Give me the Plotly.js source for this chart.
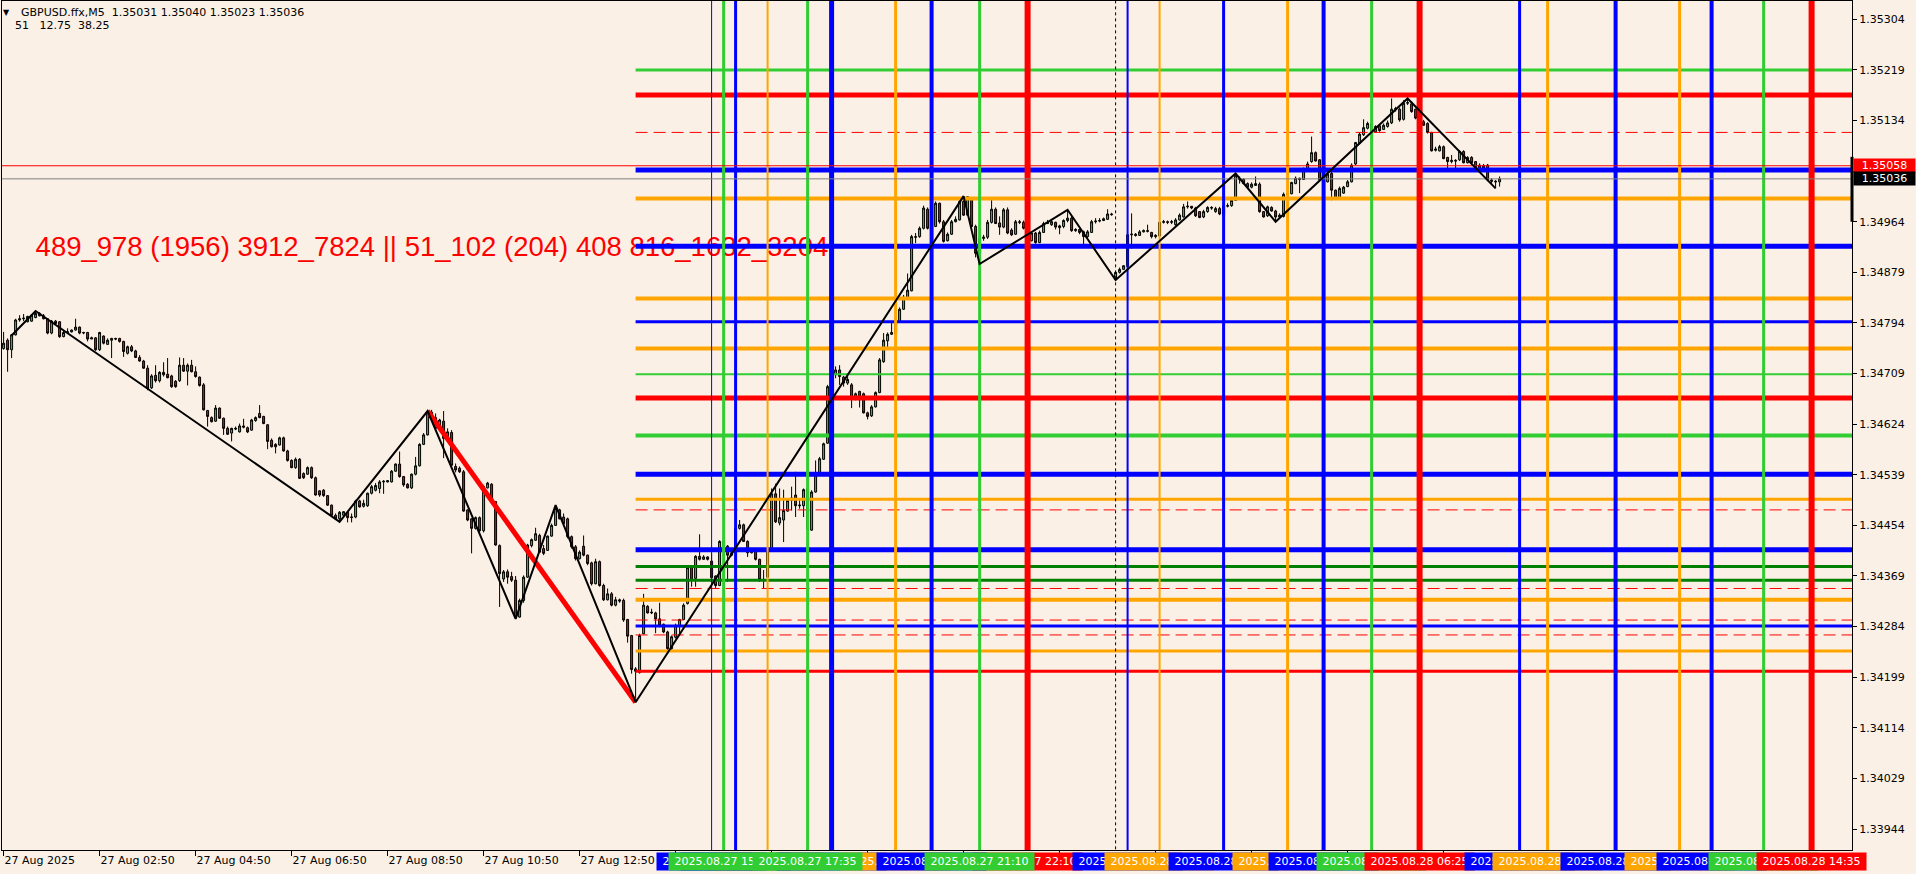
<!DOCTYPE html>
<html>
<head>
<meta charset="utf-8">
<script src="https://cdn.plot.ly/plotly-3.0.1.min.js"></script>
<style>
html,body{margin:0;padding:0;background:#FAF0E6;}
#chart{width:1916px;height:874px;}
</style>
</head>
<body>
<div id="chart"></div>
<script>
// ---------------- DATA ----------------
const symbolTitle = "GBPUSD.ffx,M5";
const lastOHLC = ["1.35031", "1.35040", "1.35023", "1.35036"];
const indicatorValues = ["51", "12.75", "38.25"];
const levelsText = "489_978 (1956) 3912_7824 || 51_102 (204) 408 816_1632_3204";
const levelsTextAt = {time: "2025.08.27 01:30", price: 1.34918};

const startTime = "2025.08.27 00:50";      // first visible M5 bar
const missingBars = ["2025.08.28 00:05"];  // bar absent from history

const open = [
1.34751,1.34765,1.34749,1.34774,1.34799,1.34801,1.34796,1.34797,1.34803,1.34810,
1.34806,1.34801,1.34777,1.34797,1.34796,1.34771,1.34778,1.34779,1.34782,1.34787,
1.34777,1.34778,1.34767,1.34769,1.34749,1.34772,1.34758,1.34765,1.34768,1.34768,
1.34763,1.34743,1.34754,1.34747,1.34736,1.34730,1.34718,1.34685,1.34706,1.34697,
1.34711,1.34708,1.34705,1.34696,1.34697,1.34723,1.34713,1.34723,1.34712,1.34703,
1.34690,1.34647,1.34635,1.34629,1.34651,1.34634,1.34617,1.34609,1.34617,1.34611,
1.34621,1.34618,1.34614,1.34630,1.34642,1.34637,1.34623,1.34597,1.34590,1.34589,
1.34601,1.34579,1.34563,1.34551,1.34565,1.34541,1.34540,1.34551,1.34534,1.34512,
1.34513,1.34504,1.34488,1.34471,1.34465,1.34471,1.34476,1.34467,1.34468,1.34495,
1.34486,1.34487,1.34508,1.34513,1.34516,1.34527,1.34527,1.34527,1.34545,1.34557,
1.34536,1.34523,1.34517,1.34540,1.34554,1.34590,1.34606,1.34644,1.34635,1.34618,
1.34629,1.34600,1.34610,1.34553,1.34550,1.34544,1.34480,1.34465,1.34449,1.34467,
1.34445,1.34517,1.34523,1.34494,1.34420,1.34364,1.34376,1.34368,1.34362,1.34300,
1.34328,1.34367,1.34420,1.34429,1.34437,1.34415,1.34412,1.34436,1.34454,1.34480,
1.34468,1.34465,1.34435,1.34418,1.34398,1.34419,1.34404,1.34391,1.34356,1.34393,
1.34353,1.34329,1.34339,1.34320,1.34329,1.34328,1.34296,1.34269,1.34213,1.34207,
1.34272,1.34318,1.34307,1.34307,1.34297,1.34288,1.34275,1.34247,1.34266,1.34285,
1.34296,1.34323,1.34383,1.34365,1.34402,1.34397,1.34401,1.34394,1.34369,1.34353,
1.34427,1.34419,1.34404,1.34408,1.34449,1.34455,1.34427,1.34408,1.34413,1.34397,
1.34363,1.34367,1.34412,1.34507,1.34458,1.34463,1.34478,1.34496,1.34505,1.34487,
1.34487,1.34516,1.34446,1.34510,1.34538,1.34565,1.34592,1.34687,1.34707,1.34715,
1.34703,1.34693,1.34690,1.34666,1.34679,1.34675,1.34643,1.34638,1.34653,1.34677,
1.34729,1.34764,1.34775,1.34776,1.34796,1.34817,1.34835,1.34848,1.34939,1.34939,
1.34953,1.34985,1.34953,1.34956,1.34995,1.34964,1.34932,1.34943,1.34964,1.34967,
1.34998,1.34975,1.35003,1.34956,1.34911,1.34936,1.34938,1.34963,1.34985,1.34962,
1.34955,1.34984,1.34950,1.34943,1.34964,1.34963,1.34955,1.34932,1.34945,1.34929,
1.34946,1.34961,1.34959,1.34963,1.34954,1.34956,1.34966,1.34970,1.34949,1.34951,
1.34947,1.34939,1.34946,1.34964,1.34965,1.34966,1.34968,1.34977,1.34867,1.34879,
1.34884,1.34889,1.34942,1.34943,1.34941,1.34947,1.34949,1.34946,1.34939,1.34940,
1.34963,1.34964,1.34963,1.34959,1.34967,1.34972,1.34989,1.34990,1.34987,1.34981,
1.34972,1.34981,1.34988,1.34981,1.34986,1.34975,1.34990,1.34991,1.35000,1.35035,
1.35035,1.35028,1.35022,1.35025,1.35027,1.34981,1.34974,1.34988,1.34982,1.34972,
1.34973,1.35010,1.35011,1.35028,1.35037,1.35035,1.35052,1.35065,1.35080,1.35068,
1.35034,1.35031,1.35045,1.35017,1.35003,1.35012,1.35023,1.35031,1.35061,1.35096,
1.35110,1.35121,1.35129,1.35115,1.35125,1.35119,1.35124,1.35130,1.35153,1.35153,
1.35136,1.35163,1.35162,1.35153,1.35138,1.35132,1.35129,1.35114,1.35084,1.35083,
1.35090,1.35072,1.35065,1.35067,1.35068,1.35082,1.35063,1.35072,1.35065,1.35054,
1.35058,1.35059,1.35034,1.35032,1.35031];

const high = [
1.34779,1.34768,1.34775,1.34801,1.34807,1.34809,1.34806,1.34809,1.34814,1.34812,
1.34809,1.34802,1.34799,1.34799,1.34797,1.34781,1.34785,1.34783,1.34801,1.34788,
1.34779,1.34779,1.34771,1.34770,1.34779,1.34773,1.34768,1.34769,1.34769,1.34769,
1.34764,1.34756,1.34757,1.34749,1.34740,1.34732,1.34723,1.34708,1.34723,1.34713,
1.34728,1.34735,1.34707,1.34698,1.34736,1.34735,1.34726,1.34732,1.34721,1.34704,
1.34693,1.34648,1.34637,1.34656,1.34652,1.34635,1.34620,1.34618,1.34620,1.34625,
1.34633,1.34620,1.34633,1.34637,1.34656,1.34638,1.34624,1.34600,1.34592,1.34603,
1.34603,1.34581,1.34565,1.34568,1.34567,1.34543,1.34553,1.34553,1.34536,1.34513,
1.34515,1.34505,1.34489,1.34474,1.34478,1.34478,1.34477,1.34474,1.34497,1.34497,
1.34497,1.34509,1.34522,1.34525,1.34530,1.34530,1.34530,1.34547,1.34558,1.34578,
1.34537,1.34525,1.34541,1.34569,1.34592,1.34609,1.34646,1.34648,1.34642,1.34633,
1.34646,1.34617,1.34614,1.34558,1.34553,1.34547,1.34481,1.34466,1.34469,1.34469,
1.34522,1.34527,1.34525,1.34495,1.34422,1.34379,1.34380,1.34376,1.34369,1.34331,
1.34370,1.34423,1.34432,1.34450,1.34440,1.34421,1.34437,1.34457,1.34488,1.34482,
1.34474,1.34467,1.34437,1.34421,1.34412,1.34437,1.34405,1.34393,1.34398,1.34395,
1.34356,1.34348,1.34342,1.34334,1.34331,1.34331,1.34297,1.34270,1.34216,1.34272,
1.34339,1.34320,1.34314,1.34309,1.34324,1.34289,1.34277,1.34269,1.34289,1.34297,
1.34323,1.34385,1.34387,1.34404,1.34439,1.34404,1.34402,1.34407,1.34370,1.34429,
1.34439,1.34421,1.34409,1.34460,1.34463,1.34457,1.34429,1.34415,1.34415,1.34398,
1.34379,1.34415,1.34516,1.34524,1.34516,1.34514,1.34499,1.34519,1.34544,1.34499,
1.34516,1.34519,1.34513,1.34563,1.34569,1.34593,1.34690,1.34718,1.34721,1.34723,
1.34705,1.34704,1.34693,1.34677,1.34680,1.34677,1.34645,1.34656,1.34679,1.34735,
1.34777,1.34778,1.34796,1.34799,1.34820,1.34841,1.34877,1.34942,1.34945,1.34956,
1.34991,1.34988,1.34959,1.34998,1.34996,1.34967,1.34946,1.34967,1.34973,1.35002,
1.35007,1.35007,1.35005,1.34959,1.34939,1.34942,1.34967,1.35002,1.34988,1.34973,
1.34987,1.34988,1.34953,1.34967,1.34967,1.34966,1.34957,1.34947,1.34947,1.34949,
1.34964,1.34967,1.34967,1.34964,1.34959,1.34968,1.34984,1.34973,1.34953,1.34952,
1.34949,1.34950,1.34967,1.34970,1.34970,1.34971,1.34985,1.34979,1.34880,1.34887,
1.34891,1.34945,1.34978,1.34945,1.34950,1.34951,1.34959,1.34947,1.34943,1.34981,
1.34967,1.34966,1.34967,1.34970,1.34978,1.34994,1.34998,1.34990,1.34989,1.34982,
1.34984,1.34990,1.34990,1.34989,1.34989,1.34994,1.34995,1.35003,1.35045,1.35040,
1.35037,1.35030,1.35030,1.35040,1.35030,1.34982,1.34991,1.34990,1.34984,1.34978,
1.35013,1.35014,1.35031,1.35040,1.35038,1.35055,1.35065,1.35107,1.35082,1.35069,
1.35038,1.35046,1.35048,1.35018,1.35023,1.35024,1.35034,1.35062,1.35098,1.35114,
1.35136,1.35132,1.35132,1.35126,1.35128,1.35129,1.35134,1.35171,1.35157,1.35156,
1.35168,1.35171,1.35166,1.35154,1.35140,1.35135,1.35131,1.35115,1.35090,1.35093,
1.35092,1.35073,1.35076,1.35069,1.35084,1.35084,1.35074,1.35074,1.35066,1.35062,
1.35061,1.35061,1.35037,1.35034,1.35040];

const low = [
1.34749,1.34712,1.34735,1.34773,1.34796,1.34797,1.34795,1.34796,1.34802,1.34805,
1.34800,1.34775,1.34775,1.34792,1.34769,1.34770,1.34777,1.34778,1.34781,1.34775,
1.34775,1.34763,1.34767,1.34747,1.34747,1.34758,1.34757,1.34735,1.34765,1.34761,
1.34737,1.34741,1.34745,1.34735,1.34729,1.34717,1.34681,1.34683,1.34694,1.34694,
1.34704,1.34701,1.34685,1.34685,1.34695,1.34712,1.34689,1.34711,1.34702,1.34687,
1.34647,1.34620,1.34627,1.34628,1.34633,1.34606,1.34606,1.34595,1.34614,1.34610,
1.34617,1.34609,1.34613,1.34628,1.34634,1.34624,1.34582,1.34585,1.34575,1.34588,
1.34578,1.34561,1.34550,1.34549,1.34532,1.34532,1.34539,1.34532,1.34504,1.34502,
1.34502,1.34487,1.34470,1.34463,1.34460,1.34470,1.34459,1.34459,1.34466,1.34484,
1.34484,1.34485,1.34506,1.34511,1.34508,1.34507,1.34526,1.34526,1.34544,1.34534,
1.34519,1.34516,1.34515,1.34538,1.34553,1.34589,1.34605,1.34631,1.34616,1.34617,
1.34567,1.34599,1.34554,1.34543,1.34542,1.34477,1.34461,1.34407,1.34447,1.34442,
1.34442,1.34516,1.34493,1.34420,1.34317,1.34359,1.34356,1.34359,1.34297,1.34299,
1.34324,1.34366,1.34417,1.34428,1.34408,1.34404,1.34411,1.34435,1.34453,1.34464,
1.34454,1.34432,1.34415,1.34395,1.34397,1.34402,1.34387,1.34353,1.34355,1.34351,
1.34327,1.34328,1.34318,1.34318,1.34324,1.34292,1.34257,1.34205,1.34157,1.34205,
1.34271,1.34306,1.34305,1.34273,1.34283,1.34273,1.34239,1.34245,1.34264,1.34271,
1.34295,1.34321,1.34351,1.34351,1.34395,1.34396,1.34395,1.34365,1.34349,1.34352,
1.34418,1.34359,1.34402,1.34407,1.34447,1.34426,1.34401,1.34407,1.34395,1.34359,
1.34348,1.34366,1.34411,1.34458,1.34454,1.34426,1.34477,1.34479,1.34468,1.34482,
1.34468,1.34437,1.34445,1.34509,1.34537,1.34564,1.34591,1.34686,1.34701,1.34690,
1.34687,1.34690,1.34651,1.34664,1.34652,1.34642,1.34632,1.34636,1.34652,1.34676,
1.34727,1.34749,1.34774,1.34768,1.34795,1.34816,1.34834,1.34847,1.34928,1.34937,
1.34951,1.34951,1.34950,1.34955,1.34961,1.34929,1.34931,1.34942,1.34963,1.34966,
1.34974,1.34974,1.34955,1.34904,1.34893,1.34932,1.34935,1.34961,1.34960,1.34942,
1.34953,1.34943,1.34940,1.34942,1.34960,1.34951,1.34922,1.34931,1.34927,1.34928,
1.34945,1.34960,1.34957,1.34951,1.34943,1.34953,1.34963,1.34947,1.34947,1.34943,
1.34925,1.34937,1.34945,1.34961,1.34963,1.34965,1.34967,1.34974,1.34865,1.34877,
1.34883,1.34887,1.34919,1.34939,1.34940,1.34946,1.34946,1.34936,1.34936,1.34939,
1.34961,1.34960,1.34960,1.34957,1.34966,1.34971,1.34986,1.34985,1.34972,1.34970,
1.34970,1.34979,1.34984,1.34979,1.34975,1.34974,1.34988,1.34989,1.34999,1.35028,
1.35027,1.35020,1.35020,1.35024,1.34979,1.34971,1.34972,1.34981,1.34964,1.34971,
1.34971,1.35009,1.35010,1.35027,1.35012,1.35034,1.35051,1.35063,1.35065,1.35032,
1.35031,1.35030,1.35000,1.35002,1.35002,1.35011,1.35022,1.35030,1.35059,1.35094,
1.35108,1.35119,1.35114,1.35114,1.35115,1.35118,1.35122,1.35128,1.35149,1.35132,
1.35134,1.35160,1.35147,1.35136,1.35128,1.35125,1.35112,1.35082,1.35082,1.35082,
1.35069,1.35054,1.35062,1.35051,1.35066,1.35062,1.35062,1.35061,1.35054,1.35052,
1.35052,1.35032,1.35028,1.35020,1.35023];

const close = [
1.34760,1.34749,1.34774,1.34799,1.34801,1.34802,1.34805,1.34807,1.34810,1.34806,
1.34801,1.34777,1.34797,1.34793,1.34771,1.34778,1.34779,1.34782,1.34787,1.34777,
1.34778,1.34767,1.34769,1.34749,1.34778,1.34760,1.34765,1.34768,1.34767,1.34763,
1.34746,1.34754,1.34747,1.34736,1.34730,1.34718,1.34684,1.34705,1.34697,1.34711,
1.34707,1.34702,1.34687,1.34687,1.34723,1.34713,1.34723,1.34712,1.34704,1.34689,
1.34648,1.34637,1.34628,1.34651,1.34634,1.34617,1.34607,1.34617,1.34616,1.34621,
1.34619,1.34611,1.34631,1.34635,1.34635,1.34625,1.34595,1.34586,1.34586,1.34601,
1.34579,1.34563,1.34551,1.34565,1.34533,1.34534,1.34551,1.34534,1.34505,1.34505,
1.34504,1.34488,1.34471,1.34465,1.34476,1.34477,1.34467,1.34468,1.34495,1.34485,
1.34491,1.34508,1.34519,1.34521,1.34527,1.34528,1.34529,1.34545,1.34557,1.34536,
1.34522,1.34517,1.34540,1.34554,1.34590,1.34606,1.34644,1.34633,1.34617,1.34631,
1.34600,1.34611,1.34555,1.34547,1.34544,1.34478,1.34463,1.34449,1.34467,1.34445,
1.34519,1.34525,1.34494,1.34421,1.34373,1.34376,1.34367,1.34362,1.34300,1.34328,
1.34367,1.34421,1.34430,1.34440,1.34409,1.34407,1.34436,1.34454,1.34482,1.34465,
1.34457,1.34435,1.34418,1.34398,1.34409,1.34404,1.34390,1.34356,1.34393,1.34353,
1.34329,1.34339,1.34320,1.34329,1.34327,1.34295,1.34268,1.34212,1.34209,1.34269,
1.34320,1.34307,1.34308,1.34297,1.34286,1.34275,1.34247,1.34267,1.34286,1.34296,
1.34320,1.34383,1.34362,1.34402,1.34397,1.34401,1.34397,1.34366,1.34353,1.34427,
1.34419,1.34404,1.34408,1.34449,1.34455,1.34427,1.34408,1.34413,1.34397,1.34363,
1.34362,1.34413,1.34507,1.34460,1.34467,1.34479,1.34496,1.34500,1.34487,1.34488,
1.34514,1.34447,1.34510,1.34538,1.34566,1.34591,1.34687,1.34707,1.34715,1.34704,
1.34693,1.34699,1.34667,1.34675,1.34665,1.34643,1.34637,1.34653,1.34677,1.34732,
1.34765,1.34775,1.34778,1.34796,1.34817,1.34837,1.34849,1.34939,1.34938,1.34953,
1.34987,1.34953,1.34956,1.34995,1.34964,1.34931,1.34943,1.34964,1.34968,1.34998,
1.34975,1.35006,1.34956,1.34911,1.34936,1.34938,1.34963,1.34985,1.34961,1.34955,
1.34984,1.34945,1.34942,1.34964,1.34963,1.34953,1.34932,1.34945,1.34929,1.34946,
1.34961,1.34963,1.34964,1.34955,1.34957,1.34966,1.34970,1.34949,1.34951,1.34946,
1.34939,1.34947,1.34964,1.34965,1.34966,1.34969,1.34977,1.34976,1.34879,1.34884,
1.34890,1.34942,1.34943,1.34941,1.34947,1.34949,1.34948,1.34939,1.34941,1.34963,
1.34964,1.34963,1.34964,1.34967,1.34975,1.34989,1.34990,1.34987,1.34974,1.34971,
1.34981,1.34988,1.34987,1.34986,1.34977,1.34990,1.34991,1.35000,1.35042,1.35036,
1.35028,1.35022,1.35027,1.35028,1.34981,1.34972,1.34989,1.34982,1.34972,1.34975,
1.35010,1.35012,1.35030,1.35037,1.35035,1.35052,1.35061,1.35080,1.35066,1.35034,
1.35035,1.35044,1.35017,1.35003,1.35020,1.35022,1.35031,1.35059,1.35097,1.35111,
1.35122,1.35129,1.35115,1.35124,1.35117,1.35126,1.35130,1.35153,1.35154,1.35135,
1.35163,1.35164,1.35149,1.35138,1.35129,1.35126,1.35114,1.35083,1.35086,1.35090,
1.35070,1.35065,1.35067,1.35066,1.35082,1.35063,1.35072,1.35063,1.35055,1.35059,
1.35054,1.35034,1.35032,1.35031,1.35036];

const askPrice = 1.35058;
const bidPrice = 1.35036;
const dayRange = [1.34964, 1.35073];

// horizontal level lines (start at the swing low bar, extend right)
const hLevelStart = "2025.08.27 14:00";
const hLevelPrices = [1.35219,1.35177,1.35114,1.35051,1.35003,1.34923,1.34835,1.34796,1.34751,1.34708,
                      1.34668,1.34605,1.34540,1.34498,1.34480,1.34413,1.34385,1.34362,1.34348,1.34329,
                      1.34295,1.34285,1.34270,1.34243,1.34209];

// vertical time lines
const vLineTimes = ["2025.08.27 15:35","2025.08.27 15:50","2025.08.27 16:05","2025.08.27 16:45",
                    "2025.08.27 17:35","2025.08.27 18:05","2025.08.27 19:25","2025.08.27 20:10",
                    "2025.08.27 21:10","2025.08.27 22:10","2025.08.28 00:20","2025.08.28 01:00",
                    "2025.08.28 02:20","2025.08.28 03:40","2025.08.28 04:25","2025.08.28 05:25",
                    "2025.08.28 06:25","2025.08.28 08:30","2025.08.28 09:05","2025.08.28 10:30",
                    "2025.08.28 11:50","2025.08.28 12:30","2025.08.28 13:35","2025.08.28 14:35"];
const daySeparator = "2025.08.28 00:00";

// zigzag and trend line
const zigzagTimes  = ["2025.08.27 01:00","2025.08.27 01:30","2025.08.27 07:50","2025.08.27 09:40",
                      "2025.08.27 11:30","2025.08.27 12:20","2025.08.27 14:00","2025.08.27 20:50",
                      "2025.08.27 21:10","2025.08.27 23:00","2025.08.28 00:00","2025.08.28 02:35",
                      "2025.08.28 03:25","2025.08.28 06:10","2025.08.28 08:00"];
const zigzagPrices = [1.34773,1.34814,1.34460,1.34646,1.34297,1.34488,1.34157,1.35007,
                      1.34893,1.34984,1.34866,1.35045,1.34964,1.35171,1.35020];
const trendTimes  = ["2025.08.27 09:40","2025.08.27 14:00"];
const trendPrices = [1.34646,1.34157];

const yTickVals = [1.33944,1.34029,1.34114,1.34199,1.34284,1.34369,1.34454,1.34539,1.34624,
                   1.34709,1.34794,1.34879,1.34964,1.35049,1.35134,1.35219,1.35304];

// ---------------- STYLE ----------------
const BLUE='#0000FF', GREEN='#32CD32', ORANGE='#FFA500', RED='#FF0000', DKGREEN='#008000';
const hLevelColors = [GREEN,RED,RED,BLUE,ORANGE,BLUE,ORANGE,BLUE,ORANGE,GREEN,
                      RED,GREEN,BLUE,ORANGE,RED,BLUE,DKGREEN,DKGREEN,RED,ORANGE,
                      RED,BLUE,RED,ORANGE,RED];
const hLevelWidths = [3,5,1,5,4,5,4,3,4,2, 5,4,5,3,1,5,3,3,1,4, 1,3,1,3,3];
const hLevelDashed = [0,0,1,0,0,0,0,0,0,0, 0,0,0,0,1,0,0,0,1,0, 1,0,1,0,0];
const vLineColors = [BLUE,GREEN,BLUE,ORANGE,GREEN,BLUE,ORANGE,BLUE,GREEN,RED,BLUE,ORANGE,
                     BLUE,ORANGE,BLUE,GREEN,RED,BLUE,ORANGE,BLUE,ORANGE,BLUE,GREEN,RED];
const vLineWidths = [1,3,3,2,3,5,3,4,3,6,2,2,3,3,4,3,6,3,3,4,3,4,3,6];
const labelDrawOrder = [2,3,5,6,9,0,1,4,7,8,10,11,12,13,14,15,16,17,18,19,20,21,22,23];
const FONT = 'DejaVu Sans, Verdana, sans-serif';
const BG = '#FAF0E6';

// ---------------- TIME -> BAR INDEX ----------------
const BAR_MIN = 5;
function toMin(s){
  const [d,t] = s.split(' ');
  const [Y,M,D] = d.split('.').map(Number);
  const [h,m] = t.split(':').map(Number);
  return Date.UTC(Y,M-1,D,h,m)/60000;
}
const gapMins = missingBars.map(toMin).sort((a,b)=>a-b);
function barIndex(s){
  const t = toMin(s);
  let k = (t - toMin(startTime)) / BAR_MIN;
  gapMins.forEach(g => { if (t > g) k -= 1; });
  return k;
}
function timeAt(i){
  let t = toMin(startTime) + i*BAR_MIN;
  gapMins.forEach(g => { if (t >= g) t += BAR_MIN; });
  return new Date(t*60000);
}
const MON = ['Jan','Feb','Mar','Apr','May','Jun','Jul','Aug','Sep','Oct','Nov','Dec'];
const pad = n => String(n).padStart(2,'0');

const nBars = close.length;
const barX = close.map((_, i) => i);

const tickVals = [], tickText = [];
for (let i = 0; i < nBars; i += 24) {
  const d = timeAt(i);
  tickVals.push(i);
  tickText.push(i === 0 ? `${d.getUTCDate()} ${MON[d.getUTCMonth()]} ${d.getUTCFullYear()}`
                        : `${d.getUTCDate()} ${MON[d.getUTCMonth()]} ${pad(d.getUTCHours())}:${pad(d.getUTCMinutes())}`);
}

// ---------------- TRACES ----------------
const traces = [];
const FAR = 100000;

traces.push({
  type:'scatter', mode:'text', x:[barIndex(levelsTextAt.time)], y:[levelsTextAt.price],
  text:[levelsText], textposition:'middle right', cliponaxis:false,
  textfont:{family:'Liberation Sans, Arial, sans-serif', size:27.5, color:RED},
  hoverinfo:'skip'
});

const hx0 = barIndex(hLevelStart);
hLevelPrices.forEach((p, k) => {
  traces.push({type:'scatter', mode:'lines', x:[hx0, FAR], y:[p, p],
    line:{color:hLevelColors[k], width:hLevelWidths[k], dash: hLevelDashed[k] ? '12px,6px' : 'solid'},
    hoverinfo:'skip'});
});

vLineTimes.forEach((t, k) => {
  const xi = barIndex(t);
  traces.push({type:'scatter', mode:'lines', x:[xi, xi], y:[1.3, 1.4],
    line:{color:vLineColors[k], width:vLineWidths[k]}, hoverinfo:'skip'});
});
{
  const xs = barIndex(daySeparator);
  traces.push({type:'scatter', mode:'lines', x:[xs, xs], y:[1.3, 1.4],
    line:{color:'#000', width:1, dash:'3px,3px'}, hoverinfo:'skip'});
}

traces.push({type:'scatter', mode:'lines', x:[-FAR, FAR], y:[bidPrice, bidPrice],
  line:{color:'#808080', width:1}, hoverinfo:'skip'});
traces.push({type:'scatter', mode:'lines', x:[-FAR, FAR], y:[askPrice, askPrice],
  line:{color:RED, width:1}, hoverinfo:'skip'});

traces.push({type:'scatter', mode:'lines', x:trendTimes.map(barIndex), y:trendPrices,
  line:{color:RED, width:5}, hoverinfo:'skip'});

traces.push({
  type:'candlestick', x:barX, open:open, high:high, low:low, close:close,
  increasing:{fillcolor:GREEN, line:{color:'#000', width:1}},
  decreasing:{fillcolor:RED, line:{color:'#000', width:1}},
  whiskerwidth:0, hoverinfo:'skip'
});

traces.push({type:'scatter', mode:'lines', x:zigzagTimes.map(barIndex), y:zigzagPrices,
  line:{color:'#000', width:2}, hoverinfo:'skip'});

// ---------------- ANNOTATIONS ----------------
const annotations = [];
annotations.push({xref:'paper', yref:'paper', x:0, y:1, xanchor:'left', yanchor:'top',
  xshift:-1, yshift:-5, text:'▼', showarrow:false, font:{family:FONT, size:8, color:'#000'}});
annotations.push({xref:'paper', yref:'paper', x:0, y:1, xanchor:'left', yanchor:'top',
  xshift:17, yshift:-3, showarrow:false,
  text: symbolTitle + '\u00a0\u00a0' + lastOHLC.join(' '),
  font:{family:FONT, size:11, color:'#000'}});
annotations.push({xref:'paper', yref:'paper', x:0, y:1, xanchor:'left', yanchor:'top',
  xshift:11, yshift:-16, showarrow:false,
  text: indicatorValues[0] + '\u00a0\u00a0\u00a0' + indicatorValues[1] + '\u00a0\u00a0' + indicatorValues[2],
  font:{family:FONT, size:11, color:'#000'}});

labelDrawOrder.forEach(k => {
  annotations.push({xref:'x', yref:'paper', x:barIndex(vLineTimes[k]), y:0,
    xanchor:'center', yanchor:'top', yshift:-2, showarrow:false,
    text:vLineTimes[k], bgcolor:vLineColors[k], width:105, height:13, borderpad:2,
    font:{family:FONT, size:11, color:'#FFFFFF'}});
});

annotations.push({xref:'paper', yref:'y', x:1, y:askPrice, xanchor:'left', yanchor:'middle',
  xshift:1, showarrow:false, text:askPrice.toFixed(5), bgcolor:RED, width:57, height:9, borderpad:2,
  font:{family:FONT, size:11, color:'#FFFFFF'}});
annotations.push({xref:'paper', yref:'y', x:1, y:bidPrice, xanchor:'left', yanchor:'middle',
  xshift:1, showarrow:false, text:bidPrice.toFixed(5), bgcolor:'#000000', width:57, height:9, borderpad:2,
  font:{family:FONT, size:11, color:'#FFFFFF'}});

const shapes = [{type:'line', xref:'paper', yref:'y', x0:1, x1:1, y0:dayRange[0], y1:dayRange[1],
  line:{color:'#000', width:3}, layer:'above'}];

// ---------------- LAYOUT ----------------
const layout = {
  width:1916, height:874,
  margin:{l:2, r:64, t:1, b:24, pad:0},
  paper_bgcolor:BG, plot_bgcolor:BG,
  showlegend:false, hovermode:false, dragmode:false,
  boxgap:0.3,
  font:{family:FONT, size:11, color:'#000'},
  xaxis:{
    range:[-0.4, 462.1], tickmode:'array', tickvals:tickVals, ticktext:tickText,
    ticks:'outside', ticklen:5, tickwidth:1, tickcolor:'#000',
    ticklabelposition:'outside right',
    showgrid:false, zeroline:false, showline:true, linecolor:'#000', linewidth:1, mirror:true,
    rangeslider:{visible:false}, fixedrange:true,
    tickfont:{family:FONT, size:11, color:'#000'}
  },
  yaxis:{
    side:'right', range:[1.339088, 1.353347],
    tickmode:'array', tickvals:yTickVals, tickformat:'.5f',
    ticks:'outside', ticklen:4, tickwidth:1, tickcolor:'#000',
    showgrid:false, zeroline:false, showline:true, linecolor:'#000', linewidth:1, mirror:true,
    fixedrange:true, tickfont:{family:FONT, size:11, color:'#000'}
  },
  annotations: annotations,
  shapes: shapes
};

Plotly.newPlot('chart', traces, layout, {staticPlot:true, displayModeBar:false});
</script>
</body>
</html>
